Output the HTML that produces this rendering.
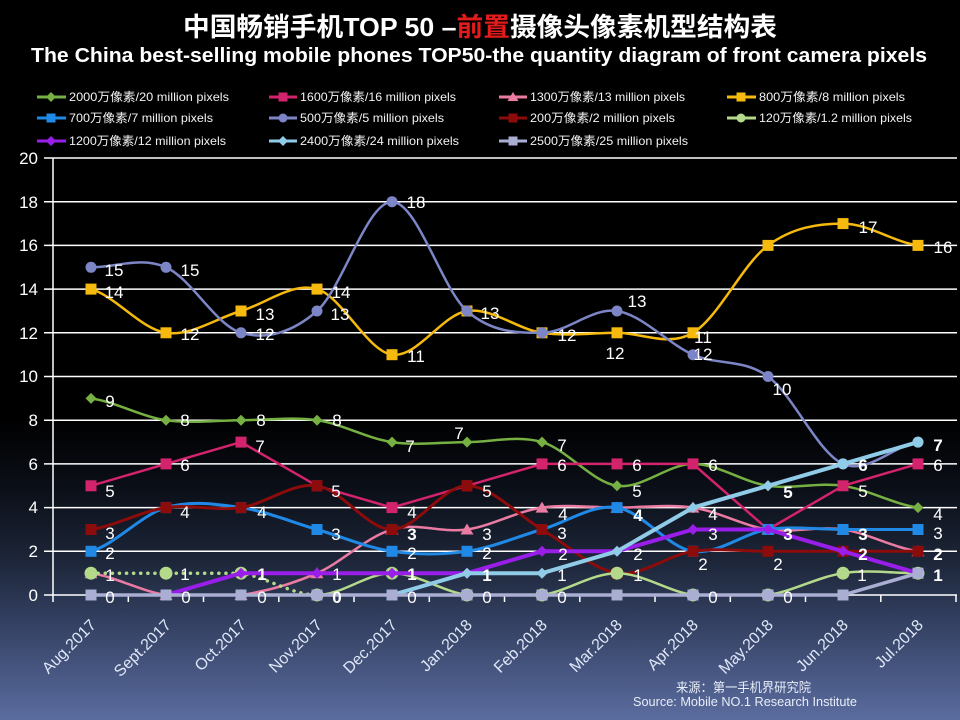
<!DOCTYPE html>
<html>
<head>
<meta charset="utf-8">
<style>
html,body{margin:0;padding:0;background:#000;}
svg{display:block;}
text{font-family:"Liberation Sans","Noto Sans CJK SC",sans-serif;}
</style>
</head>
<body>
<svg width="960" height="720" viewBox="0 0 960 720" xmlns="http://www.w3.org/2000/svg">
<defs>
<linearGradient id="bg" gradientUnits="userSpaceOnUse" x1="0" y1="0" x2="0" y2="720">
<stop offset="0" stop-color="#000"/>
<stop offset="0.58" stop-color="#000"/>
<stop offset="0.68" stop-color="#0b0f18"/>
<stop offset="0.78" stop-color="#1d2639"/>
<stop offset="0.86" stop-color="#323f60"/>
<stop offset="1" stop-color="#5b6c9f"/>
</linearGradient>
<path id="dia" d="M0,-5.5L5.5,0L0,5.5L-5.5,0Z"/>
<rect id="sq" x="-5.5" y="-5.5" width="11" height="11"/>
<circle id="ci" r="5.5"/>
<circle id="cib" r="6.5"/>
<path id="tri" d="M0,-6L6.5,5L-6.5,5Z"/>
<path id="ldia" d="M0,-5L5,0L0,5L-5,0Z"/>
<rect id="lsq" x="-4.5" y="-4.5" width="9" height="9"/>
<circle id="lci" r="4.5"/>
<path id="ltri" d="M0,-5L5.5,4L-5.5,4Z"/>
</defs>
<rect x="0" y="0" width="960" height="720" fill="url(#bg)"/>

<!-- Titles -->
<text x="183" y="36" font-size="26" font-weight="bold" fill="#fff" textLength="594" lengthAdjust="spacingAndGlyphs">中国畅销手机TOP 50 –<tspan fill="#e31b1b">前置</tspan>摄像头像素机型结构表</text>
<text x="31" y="62" font-size="20" font-weight="bold" fill="#fff" textLength="896" lengthAdjust="spacingAndGlyphs">The China best-selling mobile phones TOP50-the quantity diagram of front camera pixels</text>

<!-- Legend -->
<g stroke-width="3">
<line x1="37" y1="97" x2="66" y2="97" stroke="#76b043"/><use href="#ldia" x="51" y="97" fill="#76b043"/>
<line x1="269" y1="97" x2="297" y2="97" stroke="#d2236c"/><use href="#lsq" x="283" y="97" fill="#d2236c"/>
<line x1="499" y1="97" x2="527" y2="97" stroke="#ea7ba2"/><use href="#ltri" x="513" y="97" fill="#ea7ba2"/>
<line x1="727" y1="97" x2="756" y2="97" stroke="#f6b90e"/><use href="#lsq" x="741" y="97" fill="#f6b90e"/>
<line x1="37" y1="118" x2="66" y2="118" stroke="#2089e6"/><use href="#lsq" x="51" y="118" fill="#2089e6"/>
<line x1="269" y1="118" x2="297" y2="118" stroke="#7c86c6"/><use href="#lci" x="283" y="118" fill="#7c86c6"/>
<line x1="499" y1="118" x2="527" y2="118" stroke="#8c0b0b"/><use href="#lsq" x="513" y="118" fill="#8c0b0b"/>
<line x1="727" y1="118" x2="756" y2="118" stroke="#b4d98a"/><use href="#lci" x="741" y="118" fill="#b4d98a"/>
<line x1="37" y1="141" x2="66" y2="141" stroke="#9a1ee9"/><use href="#ldia" x="51" y="141" fill="#9a1ee9"/>
<line x1="269" y1="141" x2="297" y2="141" stroke="#90cbe8"/><use href="#ldia" x="283" y="141" fill="#90cbe8"/>
<line x1="499" y1="141" x2="527" y2="141" stroke="#a9aed2"/><use href="#lsq" x="513" y="141" fill="#a9aed2"/>
</g>
<g font-size="12" fill="#f2f2f2">
<text x="69" y="101" textLength="160" lengthAdjust="spacingAndGlyphs">2000万像素/20 million pixels</text>
<text x="300" y="101" textLength="156" lengthAdjust="spacingAndGlyphs">1600万像素/16 million pixels</text>
<text x="530" y="101" textLength="155" lengthAdjust="spacingAndGlyphs">1300万像素/13 million pixels</text>
<text x="759" y="101" textLength="146" lengthAdjust="spacingAndGlyphs">800万像素/8 million pixels</text>
<text x="69" y="122" textLength="144" lengthAdjust="spacingAndGlyphs">700万像素/7 million pixels</text>
<text x="300" y="122" textLength="144" lengthAdjust="spacingAndGlyphs">500万像素/5 million pixels</text>
<text x="530" y="122" textLength="145" lengthAdjust="spacingAndGlyphs">200万像素/2 million pixels</text>
<text x="759" y="122" textLength="153" lengthAdjust="spacingAndGlyphs">120万像素/1.2 million pixels</text>
<text x="69" y="145" textLength="157" lengthAdjust="spacingAndGlyphs">1200万像素/12 million pixels</text>
<text x="300" y="145" textLength="159" lengthAdjust="spacingAndGlyphs">2400万像素/24 million pixels</text>
<text x="530" y="145" textLength="158" lengthAdjust="spacingAndGlyphs">2500万像素/25 million pixels</text>
</g>

<!-- Grid -->
<g stroke="#fff" stroke-width="1.5">
<line x1="44" y1="158" x2="957" y2="158"/>
<line x1="44" y1="201.7" x2="957" y2="201.7"/>
<line x1="44" y1="245.4" x2="957" y2="245.4"/>
<line x1="44" y1="289.1" x2="957" y2="289.1"/>
<line x1="44" y1="332.8" x2="957" y2="332.8"/>
<line x1="44" y1="376.5" x2="957" y2="376.5"/>
<line x1="44" y1="420.2" x2="957" y2="420.2"/>
<line x1="44" y1="463.9" x2="957" y2="463.9"/>
<line x1="44" y1="507.6" x2="957" y2="507.6"/>
<line x1="44" y1="551.3" x2="957" y2="551.3"/>
<line x1="44" y1="595" x2="957" y2="595"/>
<line x1="53" y1="158" x2="53" y2="602"/>
<line x1="128.3" y1="595" x2="128.3" y2="602"/>
<line x1="203.5" y1="595" x2="203.5" y2="602"/>
<line x1="278.8" y1="595" x2="278.8" y2="602"/>
<line x1="354" y1="595" x2="354" y2="602"/>
<line x1="429.3" y1="595" x2="429.3" y2="602"/>
<line x1="504.5" y1="595" x2="504.5" y2="602"/>
<line x1="579.8" y1="595" x2="579.8" y2="602"/>
<line x1="655" y1="595" x2="655" y2="602"/>
<line x1="730.3" y1="595" x2="730.3" y2="602"/>
<line x1="805.5" y1="595" x2="805.5" y2="602"/>
<line x1="880.8" y1="595" x2="880.8" y2="602"/>
<line x1="956" y1="595" x2="956" y2="602"/>
</g>

<!-- Y labels -->
<g font-size="17" fill="#fff" text-anchor="end">
<text x="38" y="164">20</text>
<text x="38" y="208">18</text>
<text x="38" y="251">16</text>
<text x="38" y="295">14</text>
<text x="38" y="339">12</text>
<text x="38" y="382">10</text>
<text x="38" y="426">8</text>
<text x="38" y="470">6</text>
<text x="38" y="513">4</text>
<text x="38" y="557">2</text>
<text x="38" y="601">0</text>
</g>

<!-- Series -->
<g fill="none" stroke-linejoin="round" stroke-linecap="round">
<!-- 2000 green -->
<path stroke="#76b043" stroke-width="2.5" d="M91,398.4 C116,402 141,416.6 166,420.2 C191,423.8 216,420.2 241,420.2 C266,420.2 292,416.6 317,420.2 C342,423.8 367,438.4 392,442.1 C417,445.7 442,442.1 467,442.1 C492,442.1 517,434.8 542,442.1 C567,449.3 592,482.1 617,485.8 C642,489.4 668,463.9 693,463.9 C718,463.9 743,482.1 768,485.8 C793,489.4 818,482.1 843,485.8 C868,489.4 893,504 918,507.6"/>
</g>
<g fill="#76b043">
<use href="#dia" x="91" y="398.4"/><use href="#dia" x="166" y="420.2"/><use href="#dia" x="241" y="420.2"/><use href="#dia" x="317" y="420.2"/><use href="#dia" x="392" y="442.1"/><use href="#dia" x="467" y="442.1"/><use href="#dia" x="542" y="442.1"/><use href="#dia" x="617" y="485.8"/><use href="#dia" x="693" y="463.9"/><use href="#dia" x="768" y="485.8"/><use href="#dia" x="843" y="485.8"/><use href="#dia" x="918" y="507.6"/>
</g>

<!-- 1600 crimson -->
<path fill="none" stroke="#d2236c" stroke-width="2.5" stroke-linejoin="round" d="M91,485.8 L166,463.9 L241,442.1 L317,485.8 L392,507.6 L467,485.8 L542,463.9 L617,463.9 L693,463.9 L768,529.5 L843,485.8 L918,463.9"/>
<g fill="#d2236c">
<use href="#sq" x="91" y="485.8"/><use href="#sq" x="166" y="463.9"/><use href="#sq" x="241" y="442.1"/><use href="#sq" x="317" y="485.8"/><use href="#sq" x="392" y="507.6"/><use href="#sq" x="467" y="485.8"/><use href="#sq" x="542" y="463.9"/><use href="#sq" x="617" y="463.9"/><use href="#sq" x="693" y="463.9"/><use href="#sq" x="768" y="529.5"/><use href="#sq" x="843" y="485.8"/><use href="#sq" x="918" y="463.9"/>
</g>

<!-- 1300 pink -->
<path fill="none" stroke="#ea7ba2" stroke-width="2.5" d="M91,573.2 C116,576.8 141,591.4 166,595 C191,595 216,595 241,595 C266,591.4 292,584.1 317,573.2 C342,562.2 367,536.7 392,529.5 C417,522.2 442,533.1 467,529.5 C492,525.8 517,511.2 542,507.6 C567,504 592,507.6 617,507.6 C642,507.6 668,504 693,507.6 C718,511.2 743,525.8 768,529.5 C793,533.1 818,525.8 843,529.5 C868,533.1 893,547.7 918,551.3"/>
<g fill="#ea7ba2">
<use href="#tri" x="91" y="573.2"/><use href="#tri" x="166" y="595"/><use href="#tri" x="241" y="595"/><use href="#tri" x="317" y="573.2"/><use href="#tri" x="392" y="529.5"/><use href="#tri" x="467" y="529.5"/><use href="#tri" x="542" y="507.6"/><use href="#tri" x="617" y="507.6"/><use href="#tri" x="693" y="507.6"/><use href="#tri" x="768" y="529.5"/><use href="#tri" x="843" y="529.5"/><use href="#tri" x="918" y="551.3"/>
</g>

<!-- 800 yellow -->
<path fill="none" stroke="#f6b90e" stroke-width="2.5" d="M91,289.1 C116,296.4 141,329.2 166,332.8 C191,336.5 216,318.2 241,311 C266,303.7 292,281.8 317,289.1 C342,296.4 367,351 392,354.7 C417,358.3 442,314.6 467,311 C492,307.3 517,329.2 542,332.8 C567,336.5 592,332.8 617,332.8 C642,332.8 668,347.4 693,332.8 C718,318.2 743,263.6 768,245.4 C793,227.2 818,223.6 843,223.6 C868,223.6 893,241.8 918,245.4"/>
<g fill="#f6b90e">
<use href="#sq" x="91" y="289.1"/><use href="#sq" x="166" y="332.8"/><use href="#sq" x="241" y="311"/><use href="#sq" x="317" y="289.1"/><use href="#sq" x="392" y="354.7"/><use href="#sq" x="467" y="311"/><use href="#sq" x="542" y="332.8"/><use href="#sq" x="617" y="332.8"/><use href="#sq" x="693" y="332.8"/><use href="#sq" x="768" y="245.4"/><use href="#sq" x="843" y="223.6"/><use href="#sq" x="918" y="245.4"/>
</g>

<!-- 700 blue -->
<path fill="none" stroke="#2089e6" stroke-width="3" d="M91,551.3 C116,544 141,514.9 166,507.6 C191,500.3 216,504 241,507.6 C266,511.2 292,522.2 317,529.5 C342,536.7 367,547.7 392,551.3 C417,554.9 442,554.9 467,551.3 C492,547.7 517,536.7 542,529.5 C567,522.2 592,504 617,507.6 C642,511.2 668,547.7 693,551.3 C718,554.9 743,533.1 768,529.5 C793,525.8 818,529.5 843,529.5 C868,529.5 893,529.5 918,529.5"/>
<g fill="#2089e6">
<use href="#sq" x="91" y="551.3"/><use href="#sq" x="166" y="507.6"/><use href="#sq" x="241" y="507.6"/><use href="#sq" x="317" y="529.5"/><use href="#sq" x="392" y="551.3"/><use href="#sq" x="467" y="551.3"/><use href="#sq" x="542" y="529.5"/><use href="#sq" x="617" y="507.6"/><use href="#sq" x="693" y="551.3"/><use href="#sq" x="768" y="529.5"/><use href="#sq" x="843" y="529.5"/><use href="#sq" x="918" y="529.5"/>
</g>

<!-- 500 slate -->
<path fill="none" stroke="#7c86c6" stroke-width="2.5" d="M91,267.3 C116,267.3 141,256.3 166,267.3 C191,278.2 216,325.5 241,332.8 C266,340.1 292,332.8 317,311 C342,289.1 367,201.7 392,201.7 C417,201.7 442,289.1 467,311 C492,332.8 517,332.8 542,332.8 C567,332.8 592,307.3 617,311 C642,314.6 668,343.7 693,354.7 C718,365.6 743,358.3 768,376.5 C793,394.7 818,453 843,463.9 C868,474.8 893,445.7 918,442.1"/>
<g fill="#7c86c6">
<use href="#ci" x="91" y="267.3"/><use href="#ci" x="166" y="267.3"/><use href="#ci" x="241" y="332.8"/><use href="#ci" x="317" y="311"/><use href="#ci" x="392" y="201.7"/><use href="#ci" x="467" y="311"/><use href="#ci" x="542" y="332.8"/><use href="#ci" x="617" y="311"/><use href="#ci" x="693" y="354.7"/><use href="#ci" x="768" y="376.5"/><use href="#ci" x="843" y="463.9"/><use href="#ci" x="918" y="442.1"/>
</g>

<!-- 200 dark red -->
<path fill="none" stroke="#8c0b0b" stroke-width="3" d="M91,529.5 C116,525.8 141,511.2 166,507.6 C191,504 216,511.2 241,507.6 C266,504 292,482.1 317,485.8 C342,489.4 367,529.5 392,529.5 C417,529.5 442,485.8 467,485.8 C492,485.8 517,514.9 542,529.5 C567,544 592,569.5 617,573.2 C642,576.8 668,554.9 693,551.3 C718,547.7 743,551.3 768,551.3 L843,551.3 L918,551.3"/>
<g fill="#8c0b0b">
<use href="#sq" x="91" y="529.5"/><use href="#sq" x="166" y="507.6"/><use href="#sq" x="241" y="507.6"/><use href="#sq" x="317" y="485.8"/><use href="#sq" x="392" y="529.5"/><use href="#sq" x="467" y="485.8"/><use href="#sq" x="542" y="529.5"/><use href="#sq" x="617" y="573.2"/><use href="#sq" x="693" y="551.3"/><use href="#sq" x="768" y="551.3"/><use href="#sq" x="843" y="551.3"/><use href="#sq" x="918" y="551.3"/>
</g>

<!-- 120 light green -->
<path fill="none" stroke="#b4d98a" stroke-width="3.5" stroke-linecap="round" stroke-dasharray="0.1 7" d="M91,573.2 L166,573.2 L241,573.2 C266,576.8 292,595 317,595"/>
<path fill="none" stroke="#b4d98a" stroke-width="2.5" d="M317,595 C342,595 367,573.2 392,573.2 C417,573.2 442,591.4 467,595 C492,595 517,595 542,595 C567,591.4 592,573.2 617,573.2 C642,573.2 668,591.4 693,595 C718,595 743,595 768,595 C793,591.4 818,576.8 843,573.2 C868,569.5 893,573.2 918,573.2"/>
<g fill="#b4d98a">
<use href="#cib" x="91" y="573.2"/><use href="#cib" x="166" y="573.2"/><use href="#cib" x="241" y="573.2"/><use href="#cib" x="317" y="595"/><use href="#cib" x="392" y="573.2"/><use href="#cib" x="467" y="595"/><use href="#cib" x="542" y="595"/><use href="#cib" x="617" y="573.2"/><use href="#cib" x="693" y="595"/><use href="#cib" x="768" y="595"/><use href="#cib" x="843" y="573.2"/><use href="#cib" x="918" y="573.2"/>
</g>

<!-- 1200 purple -->
<path fill="none" stroke="#9a1ee9" stroke-width="4" stroke-linejoin="round" d="M166,595 L241,573.2 L317,573.2 L392,573.2 L467,573.2 L542,551.3 L617,551.3 L693,529.5 L768,529.5 L843,551.3 L918,573.2"/>
<g fill="#9a1ee9">
<use href="#dia" x="166" y="595"/><use href="#dia" x="241" y="573.2"/><use href="#dia" x="317" y="573.2"/><use href="#dia" x="392" y="573.2"/><use href="#dia" x="467" y="573.2"/><use href="#dia" x="542" y="551.3"/><use href="#dia" x="617" y="551.3"/><use href="#dia" x="693" y="529.5"/><use href="#dia" x="768" y="529.5"/><use href="#dia" x="843" y="551.3"/><use href="#dia" x="918" y="573.2"/>
</g>

<!-- 2400 light blue -->
<path fill="none" stroke="#90cbe8" stroke-width="4" stroke-linejoin="round" d="M392,595 L467,573.2 L542,573.2 L617,551.3 L693,507.6 L768,485.8 L843,463.9 L918,442.1"/>
<g fill="#90cbe8">
<use href="#dia" x="392" y="595"/><use href="#dia" x="467" y="573.2"/><use href="#dia" x="542" y="573.2"/><use href="#dia" x="617" y="551.3"/><use href="#dia" x="693" y="507.6"/><use href="#dia" x="768" y="485.8"/><use href="#ci" x="843" y="463.9"/><use href="#ci" x="918" y="442.1"/>
</g>

<!-- 2500 lavender -->
<path fill="none" stroke="#a9aed2" stroke-width="3.5" stroke-linejoin="round" d="M91,595 L843,595 L918,573.2"/>
<g fill="#a9aed2">
<use href="#sq" x="91" y="595"/><use href="#sq" x="166" y="595"/><use href="#sq" x="241" y="595"/><use href="#sq" x="317" y="595"/><use href="#sq" x="392" y="595"/><use href="#sq" x="467" y="595"/><use href="#sq" x="542" y="595"/><use href="#sq" x="617" y="595"/><use href="#sq" x="693" y="595"/><use href="#sq" x="768" y="595"/><use href="#sq" x="843" y="595"/><use href="#sq" x="918" y="573.2"/>
</g>

<!-- Data labels -->
<g font-size="17" fill="#fff" text-anchor="middle">
<text x="114" y="276">15</text><text x="190" y="276">15</text><text x="114" y="298">14</text>
<text x="190" y="340">12</text><text x="265" y="320">13</text><text x="265" y="340">12</text>
<text x="341" y="298">14</text><text x="340" y="320">13</text><text x="416" y="208">18</text>
<text x="416" y="362">11</text><text x="490" y="319">13</text><text x="567" y="341">12</text>
<text x="637" y="307">13</text><text x="615" y="359">12</text><text x="703" y="343">11</text>
<text x="703" y="360">12</text><text x="868" y="233">17</text><text x="943" y="253">16</text>
<text x="782" y="395">10</text>
<text x="110" y="407">9</text><text x="185" y="426">8</text><text x="261" y="426">8</text>
<text x="337" y="426">8</text><text x="410" y="452">7</text><text x="459" y="439">7</text>
<text x="562" y="451">7</text><text x="938" y="451" font-weight="bold">7</text>
<text x="110" y="497">5</text><text x="185" y="471">6</text><text x="260" y="452">7</text>
<text x="336" y="497">5</text><text x="412" y="518">4</text><text x="487" y="497">5</text>
<text x="562" y="471">6</text><text x="637" y="471">6</text><text x="713" y="471">6</text>
<text x="637" y="497">5</text><text x="788" y="498" font-weight="bold">5</text>
<text x="863" y="471" font-weight="bold">6</text><text x="863" y="497">5</text>
<text x="938" y="471">6</text><text x="938" y="520">4</text>
<text x="110" y="539">3</text><text x="185" y="518">4</text><text x="262" y="518">4</text>
<text x="336" y="540">3</text><text x="412" y="540" font-weight="bold">3</text><text x="487" y="540">3</text>
<text x="563" y="520">4</text><text x="562" y="539">3</text><text x="638" y="521" font-weight="bold">4</text>
<text x="713" y="520">4</text><text x="713" y="540">3</text><text x="788" y="540" font-weight="bold">3</text>
<text x="863" y="540" font-weight="bold">3</text><text x="938" y="539">3</text>
<text x="110" y="559">2</text><text x="412" y="559">2</text><text x="487" y="559">2</text>
<text x="563" y="560">2</text><text x="638" y="560">2</text><text x="703" y="570">2</text>
<text x="778" y="570">2</text><text x="863" y="560" font-weight="bold">2</text><text x="938" y="560" font-weight="bold">2</text>
<text x="110" y="581">1</text><text x="185" y="580">1</text><text x="262" y="580" font-weight="bold">1</text>
<text x="337" y="580">1</text><text x="412" y="580" font-weight="bold">1</text><text x="487" y="581" font-weight="bold">1</text>
<text x="562" y="581">1</text><text x="638" y="581">1</text><text x="862" y="581">1</text>
<text x="938" y="581" font-weight="bold">1</text>
<text x="110" y="603">0</text><text x="186" y="603">0</text><text x="262" y="603">0</text>
<text x="337" y="603" font-weight="bold">0</text><text x="412" y="603">0</text><text x="487" y="603">0</text>
<text x="562" y="603">0</text><text x="713" y="603">0</text><text x="788" y="603">0</text>
</g>

<!-- X labels -->
<g font-size="16" fill="#dfe7f7" text-anchor="end">
<text transform="translate(97,626) rotate(-45)">Aug.2017</text>
<text transform="translate(172,626) rotate(-45)">Sept.2017</text>
<text transform="translate(247,626) rotate(-45)">Oct.2017</text>
<text transform="translate(323,626) rotate(-45)">Nov.2017</text>
<text transform="translate(398,626) rotate(-45)">Dec.2017</text>
<text transform="translate(473,626) rotate(-45)">Jan.2018</text>
<text transform="translate(548,626) rotate(-45)">Feb.2018</text>
<text transform="translate(623,626) rotate(-45)">Mar.2018</text>
<text transform="translate(699,626) rotate(-45)">Apr.2018</text>
<text transform="translate(774,626) rotate(-45)">May.2018</text>
<text transform="translate(849,626) rotate(-45)">Jun.2018</text>
<text transform="translate(924,626) rotate(-45)">Jul.2018</text>
</g>

<!-- Footer -->
<text x="676" y="692" font-size="13" fill="#e8eef8" textLength="135" lengthAdjust="spacingAndGlyphs">来源：第一手机界研究院</text>
<text x="633" y="706" font-size="13" fill="#e8eef8" textLength="224" lengthAdjust="spacingAndGlyphs">Source: Mobile NO.1 Research Institute</text>
</svg>
</body>
</html>
